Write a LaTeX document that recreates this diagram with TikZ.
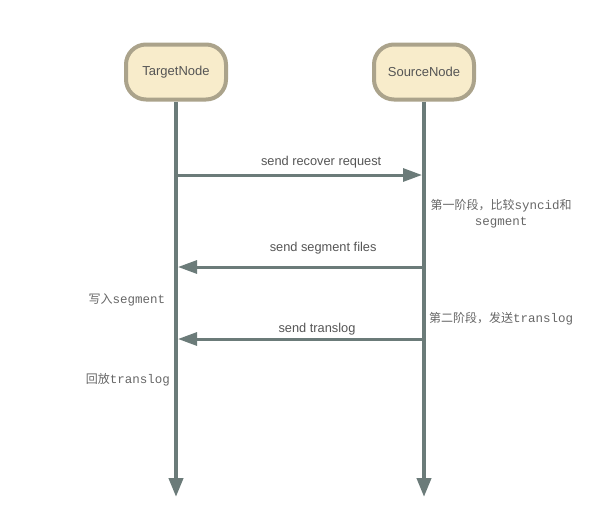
\documentclass[tikz,border=0pt]{standalone}
\usepackage{fontspec}
\setmainfont{Liberation Sans}
\setmonofont{Liberation Mono}
\newfontfamily\cjk{Noto Sans CJK SC}
\usetikzlibrary{arrows.meta,positioning}
\definecolor{linegray}{HTML}{6B7B79}
\definecolor{boxfill}{HTML}{F8ECCB}
\definecolor{boxline}{HTML}{ABA38B}
\definecolor{textgray}{HTML}{555555}
\definecolor{notegray}{HTML}{666666}
\newcommand{\notefont}{\fontsize{12}{16}\selectfont\cjk}
\newcommand{\lat}[1]{{\fontsize{12.5}{16}\selectfont\ttfamily #1}}
\tikzset{
  actor/.style={rectangle, rounded corners=20pt, draw=boxline, fill=boxfill,
    line width=4pt, minimum width=100pt, minimum height=55pt,
    text=textgray, font=\fontsize{13}{14}\selectfont},
  lifeline/.style={draw=linegray, line width=4pt, -{Triangle[width=14pt,length=19pt]}},
  msg/.style={draw=linegray, line width=3pt, -{Triangle[width=13pt,length=19pt]}},
  msglabel/.style={text=textgray, font=\fontsize{12.8}{14}\selectfont, inner sep=0pt},
  note/.style={text=notegray, font=\notefont, inner sep=0pt}
}
\begin{document}
\begin{tikzpicture}[x=1pt,y=-1pt]
\useasboundingbox (0,0) rectangle (613,525);
\node[actor](tn) at (176,72) {TargetNode};
\node[actor](sn) at (424,72) {SourceNode};
\coordinate (tnend) at (176,497);
\coordinate (snend) at (424,497);
\draw[lifeline] (tn) -- (tnend);
\draw[lifeline] (sn) -- (snend);

% messages
\coordinate (t1) at (176,175);
\coordinate (s1) at (422,175);
\coordinate (s2) at (424,267);
\coordinate (t2) at (178,267);
\coordinate (s3) at (424,339);
\coordinate (t3) at (178,339);
\draw[msg] (t1) -- node[msglabel, pos=0.59, above=5pt]{send recover request} (s1);
\draw[msg] (s2) -- node[msglabel, pos=0.41, above=11pt]{send segment files} (t2);
\draw[msg] (s3) -- node[msglabel, pos=0.435, above=2pt]{send translog} (t3);

% notes
\node[note, align=center](n1) at (501,214) {第一阶段，比较\lat{syncid}和\\\lat{segment}};
\node[note, anchor=west](n2) at (429,319) {第二阶段，发送\lat{translog}};
\node[note](n3) at (127,300) {写入\lat{segment}};
\node[note](n4) at (128,380) {回放\lat{translog}};
\end{tikzpicture}
\end{document}
